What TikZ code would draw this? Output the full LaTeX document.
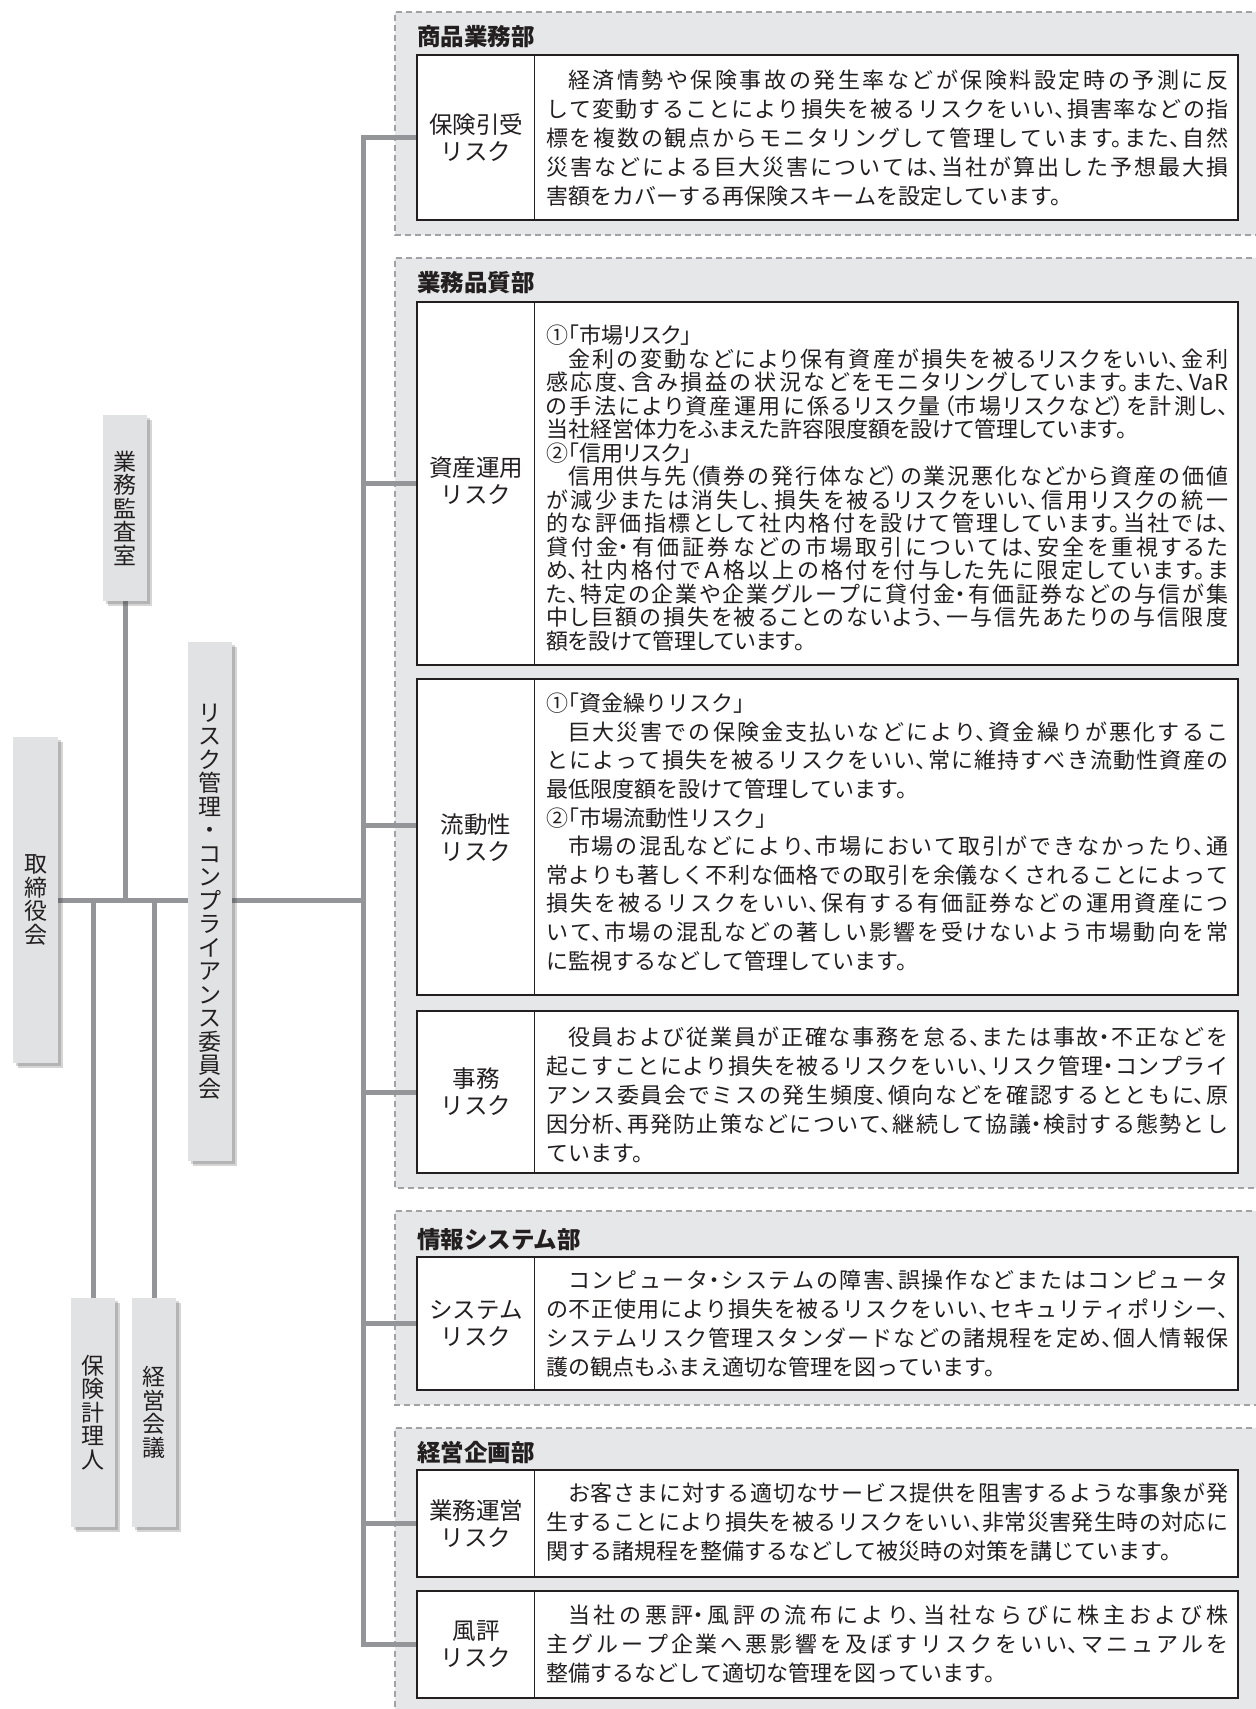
\documentclass[tikz,border=0pt]{standalone}
\usepackage{fontspec}
\setmainfont{Noto Sans CJK JP}
\newfontfamily\jp[RawFeature=+halt]{Noto Sans CJK JP}
\newfontfamily\jpp[RawFeature=+palt]{Noto Sans CJK JP}
\usetikzlibrary{shadows}
\pgfdeclarelayer{bg}
\pgfdeclarelayer{lines}
\pgfsetlayers{bg,lines,main}
\XeTeXlinebreaklocale "ja"
\XeTeXlinebreakskip=0pt plus 6pt minus 0.5pt
\definecolor{secfill}{HTML}{E6E7E8}
\definecolor{dashc}{HTML}{A0A2A5}
\definecolor{linec}{HTML}{939598}
\definecolor{boxfill}{HTML}{E1E2E4}
\definecolor{ink}{HTML}{231F20}
\newcommand\NP{\par\noindent}
\tikzset{
  conn/.style={draw=linec, line width=5pt},
  secdash/.style={draw=dashc, line width=1.8pt, dash pattern=on 6pt off 4pt},
  riskbox/.style={draw=ink, line width=1.3pt, fill=white, inner sep=0pt},
  divline/.style={draw=ink, line width=1.3pt},
  body/.style={inner sep=0pt, text width=682pt, align=justify, text=ink, anchor=west,
    font=\jp\fontsize{22}{29}\selectfont},
  bodyc/.style={body, font=\jpp\fontsize{22}{23.5}\selectfont},
  head/.style={inner sep=0pt, anchor=west, text=ink, font=\bfseries\fontsize{23.5}{27}\selectfont},
  lab/.style={inner sep=0pt, align=center, text=ink, font=\jp\fontsize{23.5}{27}\selectfont},
  org/.style={fill=boxfill, minimum width=44pt, inner sep=0pt, align=center, text=ink,
    font=\fontsize{23}{23.5}\selectfont,
    double copy shadow={shadow xshift=2.5pt, shadow yshift=-2.5pt, opacity=0.22, fill=black!75, draw=none}}
}
\begin{document}
\begin{tikzpicture}[x=1pt,y=-1pt]
\useasboundingbox (0,0) rectangle (1256,1709);
\begin{pgfonlayer}{bg}
\fill[white] (0,0) rectangle (1256,1709);
\fill[secfill] (395,12) rectangle (1262,235);
\draw[secdash] (1262,12) -- (395,12) -- (395,235) -- (1262,235);
\fill[secfill] (395,258) rectangle (1262,1188);
\draw[secdash] (1262,258) -- (395,258) -- (395,1188) -- (1262,1188);
\fill[secfill] (395,1211) rectangle (1262,1405);
\draw[secdash] (1262,1211) -- (395,1211) -- (395,1405) -- (1262,1405);
\fill[secfill] (395,1428) rectangle (1262,1720);
\draw[secdash] (1262,1428) -- (395,1428) -- (395,1720);
\end{pgfonlayer}

% section headings
\node[head] (h1) at (417,37) {商品業務部};
\node[head] (h2) at (417,283) {業務品質部};
\node[head] (h3) at (417,1240) {情報システム部};
\node[head] (h4) at (417,1453) {経営企画部};

% risk boxes
\node[riskbox, minimum width=821pt, minimum height=165pt] (b1) at (827.5,137.5) {};
\node[riskbox, minimum width=821pt, minimum height=363pt] (b2) at (827.5,483.5) {};
\node[riskbox, minimum width=821pt, minimum height=316pt] (b3) at (827.5,837) {};
\node[riskbox, minimum width=821pt, minimum height=162pt] (b4) at (827.5,1092) {};
\node[riskbox, minimum width=821pt, minimum height=133pt] (b5) at (827.5,1323.5) {};
\node[riskbox, minimum width=821pt, minimum height=107pt] (b6) at (827.5,1523.5) {};
\node[riskbox, minimum width=821pt, minimum height=107pt] (b7) at (827.5,1644.5) {};
\foreach \b in {b1,b2,b3,b4,b5,b6,b7}{
  \draw[divline] ([xshift=118pt]\b.north west) -- ([xshift=118pt]\b.south west);
}

% labels
\node[lab] (l1) at (476,137.5) {保険引受\\リスク};
\node[lab] (l2) at (476,481) {資産運用\\リスク};
\node[lab] (l3) at (476,838) {流動性\\リスク};
\node[lab] (l4) at (476,1092) {事務\\リスク};
\node[lab] (l5) at (476,1323.5) {システム\\リスク};
\node[lab] (l6) at (476,1523.5) {業務運営\\リスク};
\node[lab] (l7) at (476,1644.5) {風評\\リスク};

% texts
\node[body] (t1) at (546,138) {\noindent\hspace*{1em}経済情勢や保険事故の発生率などが保険料設定時の予測に反\linebreak
して変動することにより損失を被るリスクをいい、損害率などの指\linebreak
標を複数の観点からモニタリングして管理しています。また、自然\linebreak
災害などによる巨大災害については、当社が算出した予想最大損\linebreak
害額をカバーする再保険スキームを設定しています。};

\node[bodyc] (t2) at (546,488) {\noindent ①「市場リスク」\NP
\hspace*{1em}金利の変動などにより保有資産が損失を被るリスクをいい、金利\linebreak
感応度、含み損益の状況などをモニタリングしています。また、VaR\linebreak
の手法により資産運用に係るリスク量（市場リスクなど）を計測し、\linebreak
当社経営体力をふまえた許容限度額を設けて管理しています。\NP
②「信用リスク」\NP
\hspace*{1em}信用供与先（債券の発行体など）の業況悪化などから資産の価値\linebreak
が減少または消失し、損失を被るリスクをいい、信用リスクの統一\linebreak
的な評価指標として社内格付を設けて管理しています。当社では、\linebreak
貸付金・有価証券などの市場取引については、安全を重視するた\linebreak
め、社内格付でＡ格以上の格付を付与した先に限定しています。ま\linebreak
た、特定の企業や企業グループに貸付金・有価証券などの与信が集\linebreak
中し巨額の損失を被ることのないよう、一与信先あたりの与信限度\linebreak
額を設けて管理しています。};

\node[body, font=\jp\fontsize{22}{28.6}\selectfont] (t3) at (546,832) {\noindent ①「資金繰りリスク」\NP
\hspace*{1em}巨大災害での保険金支払いなどにより、資金繰りが悪化するこ\linebreak
とによって損失を被るリスクをいい、常に維持すべき流動性資産の\linebreak
最低限度額を設けて管理しています。\NP
②「市場流動性リスク」\NP
\hspace*{1em}市場の混乱などにより、市場において取引ができなかったり、通\linebreak
常よりも著しく不利な価格での取引を余儀なくされることによって\linebreak
損失を被るリスクをいい、保有する有価証券などの運用資産につ\linebreak
いて、市場の混乱などの著しい影響を受けないよう市場動向を常\linebreak
に監視するなどして管理しています。};

\node[body] (t4) at (546,1095) {\noindent\hspace*{1em}役員および従業員が正確な事務を怠る、または事故・不正などを\linebreak
起こすことにより損失を被るリスクをいい、リスク管理・コンプライ\linebreak
アンス委員会でミスの発生頻度、傾向などを確認するとともに、原\linebreak
因分析、再発防止策などについて、継続して協議・検討する態勢とし\linebreak
ています。};

\node[body] (t5) at (546,1323.5) {\noindent\hspace*{1em}コンピュータ・システムの障害、誤操作などまたはコンピュータ\linebreak
の不正使用により損失を被るリスクをいい、セキュリティポリシー、\linebreak
システムリスク管理スタンダードなどの諸規程を定め、個人情報保\linebreak
護の観点もふまえ適切な管理を図っています。};

\node[body] (t6) at (546,1522) {\noindent\hspace*{1em}お客さまに対する適切なサービス提供を阻害するような事象が発\linebreak
生することにより損失を被るリスクをいい、非常災害発生時の対応に\linebreak
関する諸規程を整備するなどして被災時の対策を講じています。};

\node[body] (t7) at (546,1644.5) {\noindent\hspace*{1em}当社の悪評・風評の流布により、当社ならびに株主および株\linebreak
主グループ企業へ悪影響を及ぼすリスクをいい、マニュアルを\linebreak
整備するなどして適切な管理を図っています。};

% organisation boxes
\node[org, minimum height=186pt] (audit) at (125,508) {業\\務\\監\\査\\室};
\node[org, minimum height=519pt] (committee) at (210,901.5) {リ\\ス\\ク\\管\\理\\・\\コ\\ン\\プ\\ラ\\イ\\ア\\ン\\ス\\委\\員\\会};
\node[org, minimum width=45pt, minimum height=326pt] (board) at (35.5,900) {取\\締\\役\\会};
\node[org, minimum height=229pt] (actuary) at (93,1412.5) {保\\険\\計\\理\\人};
\node[org, minimum height=229pt] (mgmt) at (154,1412.5) {経\\営\\会\\議};

% connectors
\coordinate (tr) at (363,0);
\coordinate (b3in) at (417,825);
\begin{pgfonlayer}{lines}
\draw[conn] (b1.west) -| (tr |- b7.west) -- (b7.west);
\draw[conn] (tr |- b2.west) -- (b2.west);
\draw[conn] (tr |- b3in) -- (b3in);
\draw[conn] (tr |- b4.west) -- (b4.west);
\draw[conn] (tr |- b5.west) -- (b5.west);
\draw[conn] (tr |- b6.west) -- (b6.west);
\draw[conn] (board.east) -- (tr |- board.east);
\draw[conn] (audit.south) -- (audit.south |- board.east);
\draw[conn] (actuary.north) -- (actuary.north |- board.east);
\draw[conn] (mgmt.north) -- (mgmt.north |- board.east);
\end{pgfonlayer}
\end{tikzpicture}
\end{document}
